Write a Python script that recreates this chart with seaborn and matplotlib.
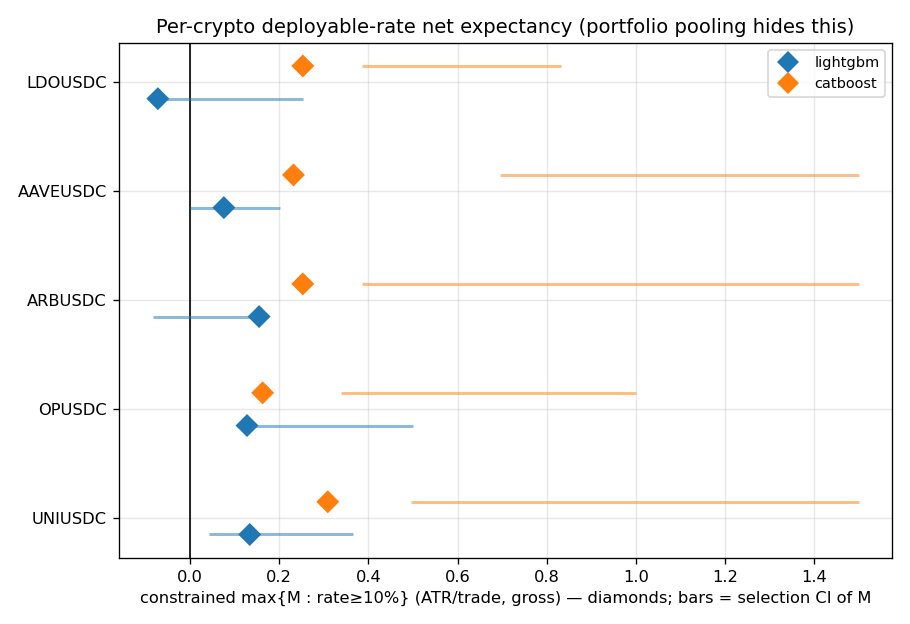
import numpy as np
import pandas as pd
import matplotlib
matplotlib.use("Agg")
import matplotlib.pyplot as plt
import seaborn as sns

symbols = ["LDOUSDC", "AAVEUSDC", "ARBUSDC", "OPUSDC", "UNIUSDC"]
models = ["lightgbm", "catboost"]

lgb_value = [-0.072, 0.076, 0.155, 0.128, 0.134]
lgb_ci_lo = [-0.072, 0.0, -0.082, 0.128, 0.043]
lgb_ci_hi = [0.253, 0.201, 0.155, 0.501, 0.365]

cat_value = [0.253, 0.232, 0.253, 0.163, 0.309]
cat_ci_lo = [0.386, 0.695, 0.386, 0.339, 0.496]
cat_ci_hi = [0.832, 1.5, 1.5, 1.0, 1.5]

colors = {"lightgbm": "#1f77b4", "catboost": "#ff7f0e"}
offsets = {"lightgbm": 0.15, "catboost": -0.15}

rows = []
for m, vals, lo, hi in [("lightgbm", lgb_value, lgb_ci_lo, lgb_ci_hi),
                        ("catboost", cat_value, cat_ci_lo, cat_ci_hi)]:
    for i, s in enumerate(symbols):
        rows.append(dict(symbol=s, model=m, value=vals[i], lo=lo[i], hi=hi[i],
                         ypos=i + offsets[m]))
df = pd.DataFrame(rows)

plt.rcParams['font.family'] = ['DejaVu Sans']
plt.rcParams['font.size'] = 9.75
plt.rcParams['axes.titlesize'] = 11.7
fig, ax = plt.subplots(figsize=(910 / 120, 624 / 120), dpi=120)

for m in models:
    sub = df[df.model == m]
    ax.hlines(sub.ypos, sub.lo, sub.hi, color=colors[m], alpha=0.5, linewidth=1.8, zorder=2)

sns.scatterplot(data=df, x="value", y="ypos", hue="model", hue_order=models,
                palette=colors, marker="D", s=95, linewidth=0, ax=ax, zorder=3)

ax.axvline(0, color="black", linewidth=1, zorder=1)
ax.set_yticks(range(len(symbols)))
ax.set_yticklabels(symbols)
ax.set_ylim(len(symbols) - 1 + 0.365, -0.365)
ax.set_xlim(-0.16, 1.575)
ax.grid(True, alpha=0.3)
ax.set_axisbelow(True)
ax.set_ylabel("")
ax.set_xlabel("constrained max{M : rate≥10%} (ATR/trade, gross) — diamonds; bars = selection CI of M")
ax.set_title("Per-crypto deployable-rate net expectancy (portfolio pooling hides this)")

handles, labels = ax.get_legend_handles_labels()
ax.legend(handles, labels, loc="upper right", fontsize=8.7)

fig.tight_layout()
fig.savefig("out.png", dpi=120)
